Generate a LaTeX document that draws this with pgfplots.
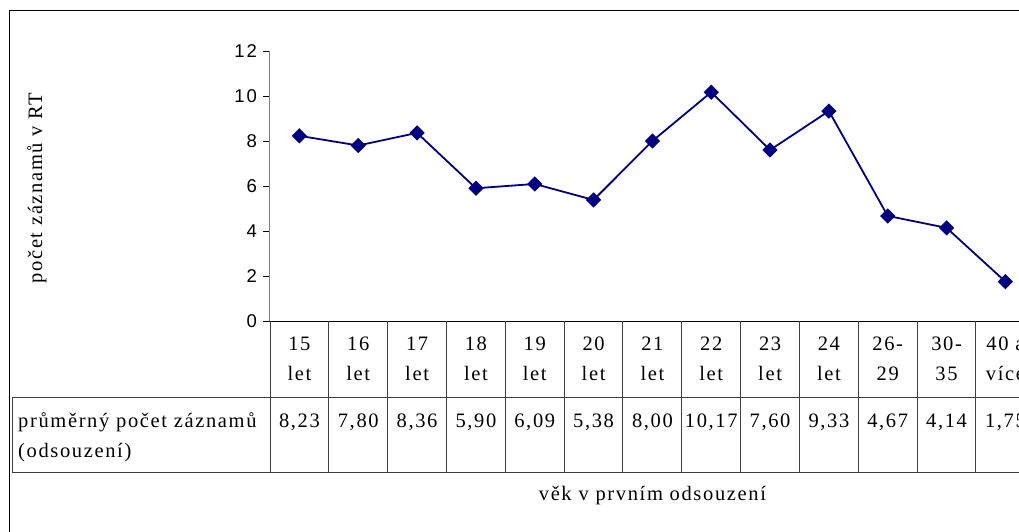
\documentclass[border=0pt]{standalone}
\usepackage{fontspec}
\usepackage{pgfplots}
\usepackage{pgfplotstable}
\pgfplotsset{compat=1.18}
\setmainfont{Liberation Serif}[LetterSpace=8]
\newfontfamily\arial{Liberation Sans}[LetterSpace=10]
\definecolor{xlnavy}{RGB}{0,0,128}
\newcommand\tnr{\fontsize{20.5bp}{30bp}\selectfont}

% x = column index, v = mean count, top/bot = category text, lab = table cell
\pgfplotstableread[col sep=semicolon]{
x;v;top;bot;lab
0;8.23;15;let;8,23
1;7.80;16;let;7,80
2;8.36;17;let;8,36
3;5.90;18;let;5,90
4;6.09;19;let;6,09
5;5.38;20;let;5,38
6;8.00;21;let;8,00
7;10.17;22;let;10,17
8;7.60;23;let;7,60
9;9.33;24;let;9,33
10;4.67;26-;29;4,67
11;4.14;30-;35;4,14
12;1.75;40 a;více;1,75
}\prumer

\begin{document}
\begin{tikzpicture}[x=1bp,y=-1bp]
\path[use as bounding box, clip] (0,0) rectangle (1019,532);
\coordinate (A) at (270,321);
\begin{axis}[
    at={(A)}, anchor=south west,
    scale only axis, width=764.8bp, height=270bp,
    xmin=-0.5, xmax=12.5, ymin=0, ymax=12,
    clip=false,
    axis x line*=bottom, axis y line*=left,
    x axis line style={black, line width=1bp, -},
    y axis line style={gray, line width=1bp, -},
    xtick=\empty,
    ytick={0,2,...,12},
    tick align=outside, major tick length=7bp,
    ytick style={black, line width=0.8bp},
    yticklabel style={font=\arial\fontsize{18.5bp}{20bp}\selectfont, inner sep=0pt, anchor=east, xshift=-6bp},
    /pgf/number format/assume math mode=true,
    ylabel={počet záznamů v RT},
    ylabel style={at={(axis description cs:-0.3047,0.4926)}, anchor=center, font=\tnr},
    xlabel={věk v prvním odsouzení},
    xlabel style={at={(axis description cs:0.5,-0.663)}, anchor=base, font=\tnr},
    every node near coord/.append style={font=\tnr, anchor=base, inner sep=0pt, text=black},
]
\addplot[xlnavy, line width=1.8bp, mark=square*, mark size=4.5bp,
    mark options={rotate=45, fill=xlnavy, solid}] table[x=x, y=v] {\prumer};
\addplot[draw=none, mark=none, nodes near coords, point meta=explicit symbolic]
    table[x=x, y expr=-1.2889, meta=top] {\prumer};
\addplot[draw=none, mark=none, nodes near coords, point meta=explicit symbolic]
    table[x=x, y expr=-2.6222, meta=bot] {\prumer};
\addplot[draw=none, mark=none, nodes near coords, point meta=explicit symbolic]
    table[x=x, y expr=-4.7111, meta=lab] {\prumer};
\end{axis}

% data table grid and outer frame
\draw[black!75, line width=1bp] (12,397) -- (1040,397) (12,472) -- (1040,472) (12,397) -- (12,472);
\foreach \i in {0,...,13} \draw[black!75, line width=1bp] ({270+\i*58.83},321) -- ({270+\i*58.83},472);
\draw[black, line width=1bp] (9,540) -- (9,11) -- (1040,11);
\node[anchor=base west, inner sep=0pt, font=\tnr] at (18,427) {průměrný počet záznamů};
\node[anchor=base west, inner sep=0pt, font=\tnr] at (18,457) {(odsouzení)};
\end{tikzpicture}
\end{document}
